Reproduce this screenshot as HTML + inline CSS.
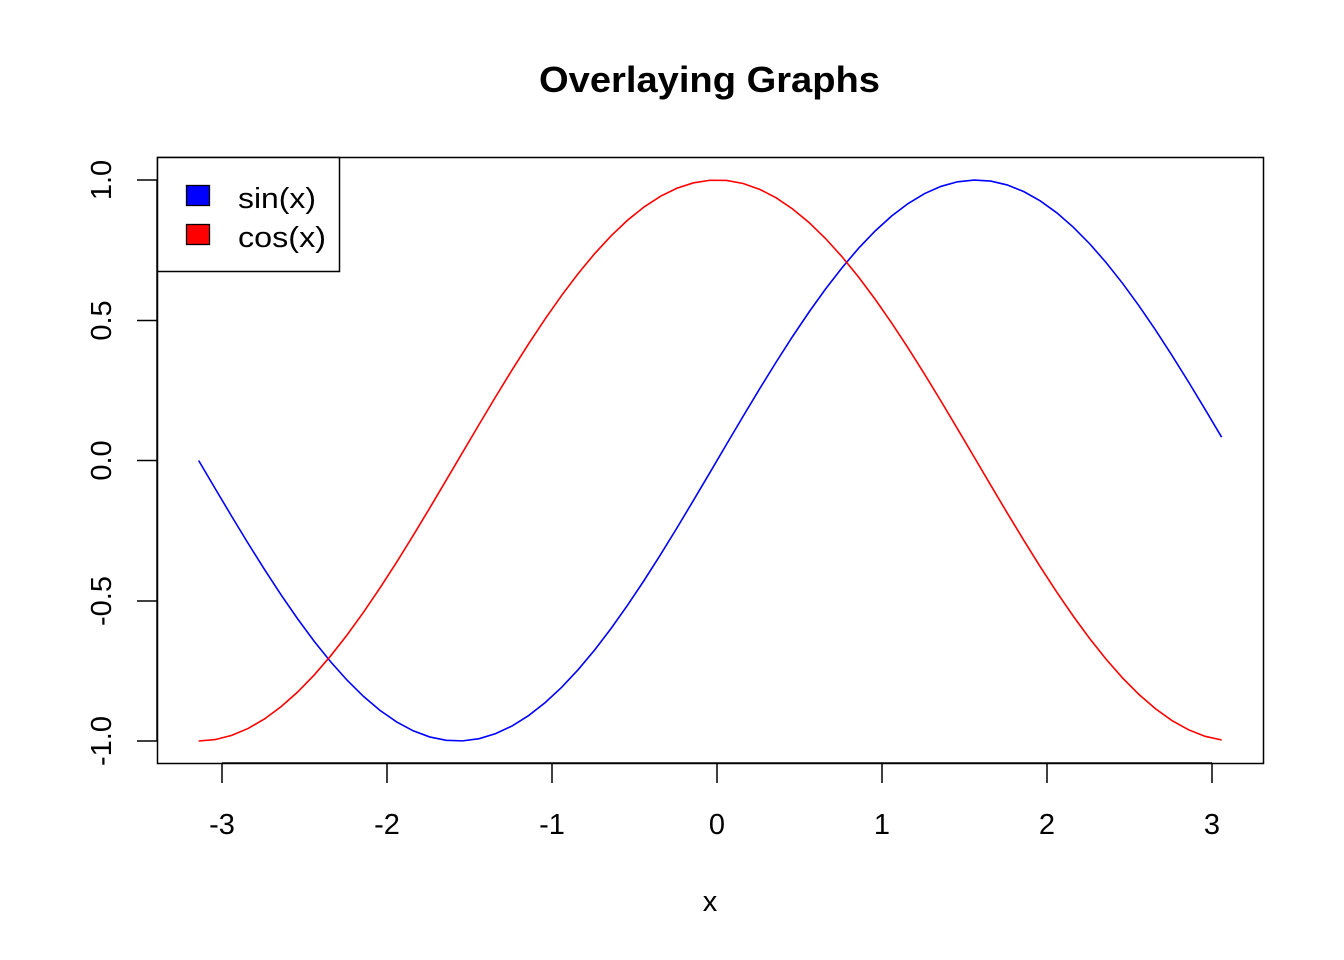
<!DOCTYPE html>
<html><head><meta charset="utf-8"><style>body{margin:0;background:#fff}svg{display:block}</style></head>
<body>
<svg id="s" width="1344" height="960" xmlns="http://www.w3.org/2000/svg" font-family="Liberation Sans, Arial, sans-serif">
<rect width="1344" height="960" fill="#fff"/>
<text x="539" y="92" font-size="36" font-weight="bold" textLength="341" lengthAdjust="spacingAndGlyphs">Overlaying Graphs</text>
<rect x="157.5" y="157.5" width="1106" height="606" fill="none" stroke="#000" stroke-width="1.5"/>
<g stroke="#000" stroke-width="1.5">
<line x1="222" y1="763" x2="1212" y2="763"/>
<line x1="222" y1="763" x2="222" y2="783"/><line x1="387" y1="763" x2="387" y2="783"/><line x1="552" y1="763" x2="552" y2="783"/><line x1="717" y1="763" x2="717" y2="783"/><line x1="882" y1="763" x2="882" y2="783"/><line x1="1047" y1="763" x2="1047" y2="783"/><line x1="1212" y1="763" x2="1212" y2="783"/>
<line x1="157" y1="180" x2="157" y2="741"/>
<line x1="157" y1="180" x2="137" y2="180"/><line x1="157" y1="320.5" x2="137" y2="320.5"/><line x1="157" y1="460.5" x2="137" y2="460.5"/><line x1="157" y1="601" x2="137" y2="601"/><line x1="157" y1="741" x2="137" y2="741"/>
</g>
<g font-size="29" text-anchor="middle">
<text x="222" y="834">-3</text><text x="387" y="834">-2</text><text x="552" y="834">-1</text><text x="717" y="834">0</text><text x="882" y="834">1</text><text x="1047" y="834">2</text><text x="1212" y="834">3</text>
<text x="710" y="911">x</text>
<text transform="translate(111,180) rotate(-90)">1.0</text>
<text transform="translate(111,320.5) rotate(-90)">0.5</text>
<text transform="translate(111,460.5) rotate(-90)">0.0</text>
<text transform="translate(111,601) rotate(-90)">-0.5</text>
<text transform="translate(111,741) rotate(-90)">-1.0</text>
</g>
<polyline id="sin" fill="none" stroke="#00f" stroke-width="1.6"/>
<polyline id="cos" fill="none" stroke="#f00" stroke-width="1.6"/>
<rect x="157.5" y="157.5" width="182" height="114" fill="#fff" stroke="#000" stroke-width="1.5"/>
<rect x="186.5" y="185.5" width="23" height="20" fill="#00f" stroke="#000" stroke-width="1.3"/>
<rect x="186.5" y="224.5" width="23" height="20" fill="#f00" stroke="#000" stroke-width="1.3"/>
<text x="238" y="208" font-size="29" textLength="78" lengthAdjust="spacingAndGlyphs">sin(x)</text>
<text x="238" y="247" font-size="29" textLength="88" lengthAdjust="spacingAndGlyphs">cos(x)</text>
</svg>
<script>
var a=[],b=[];
for(var i=0;i<=62;i++){var x=-Math.PI+i*0.1;var px=717+x*165;
a.push(px.toFixed(2)+","+(460.5-280.5*Math.sin(x)).toFixed(2));
b.push(px.toFixed(2)+","+(460.5-280.5*Math.cos(x)).toFixed(2));}
document.getElementById("sin").setAttribute("points",a.join(" "));
document.getElementById("cos").setAttribute("points",b.join(" "));
</script>
</body></html>
